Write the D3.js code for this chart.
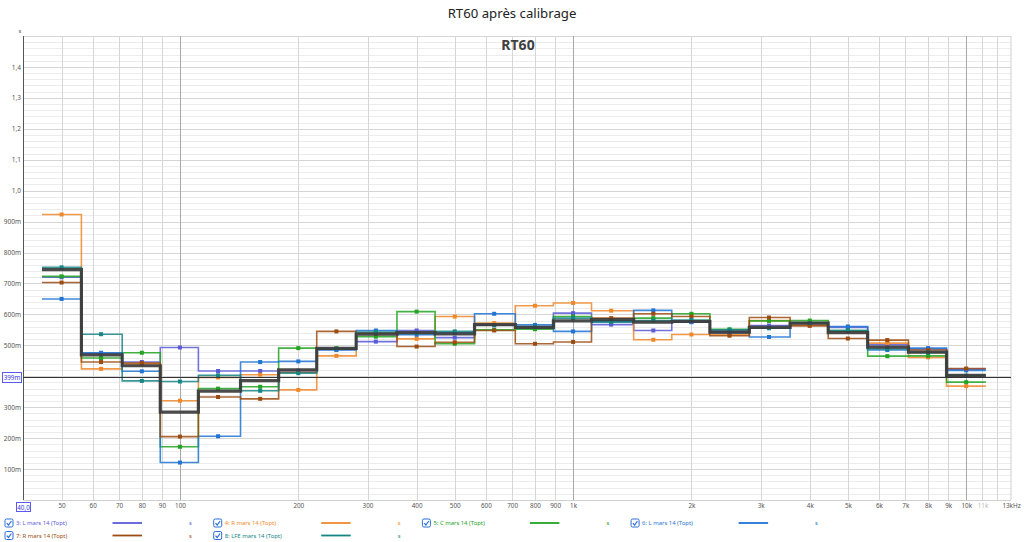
<!DOCTYPE html>
<html>
<head>
<meta charset="utf-8">
<script src="https://cdn.jsdelivr.net/npm/d3@7"></script>
<style>
  body { margin: 0; background: #fff; }
  text { font-family: "Noto Sans", "Open Sans", sans-serif; }
</style>
</head>
<body>
<script>
// 1/3 octave band centres (Hz)
var bands = [50, 63, 80, 100, 125, 160, 200, 250, 315, 400, 500, 630, 800, 1000, 1250, 1600, 2000, 2500, 3150, 4000, 5000, 6300, 8000, 10000];

// RT60 in seconds
var s3 = [0.720, 0.474, 0.446, 0.493, 0.417, 0.417, 0.418, 0.487, 0.512, 0.548, 0.525, 0.565, 0.555, 0.604, 0.567, 0.548, 0.575, 0.545, 0.564, 0.570, 0.558, 0.502, 0.488, 0.423];
var s4 = [0.923, 0.424, 0.440, 0.321, 0.396, 0.405, 0.356, 0.466, 0.540, 0.521, 0.593, 0.572, 0.628, 0.637, 0.612, 0.518, 0.535, 0.535, 0.580, 0.565, 0.545, 0.507, 0.461, 0.368];
var s5 = [0.723, 0.459, 0.476, 0.172, 0.360, 0.366, 0.491, 0.490, 0.528, 0.609, 0.505, 0.550, 0.552, 0.593, 0.580, 0.588, 0.602, 0.552, 0.579, 0.580, 0.548, 0.465, 0.466, 0.381];
var s6 = [0.650, 0.476, 0.416, 0.121, 0.206, 0.446, 0.448, 0.485, 0.548, 0.534, 0.541, 0.602, 0.566, 0.545, 0.577, 0.613, 0.575, 0.540, 0.527, 0.572, 0.561, 0.485, 0.491, 0.419];
var s7 = [0.703, 0.446, 0.443, 0.205, 0.333, 0.327, 0.413, 0.545, 0.539, 0.496, 0.510, 0.548, 0.505, 0.511, 0.588, 0.602, 0.593, 0.531, 0.590, 0.563, 0.522, 0.517, 0.485, 0.425];
var s8 = [0.752, 0.536, 0.385, 0.383, 0.403, 0.353, 0.410, 0.490, 0.543, 0.540, 0.545, 0.565, 0.560, 0.588, 0.575, 0.580, 0.582, 0.550, 0.555, 0.572, 0.548, 0.488, 0.477, 0.402];
var avg = [0.745, 0.469, 0.434, 0.284, 0.352, 0.386, 0.421, 0.490, 0.536, 0.541, 0.537, 0.567, 0.558, 0.579, 0.583, 0.575, 0.577, 0.543, 0.558, 0.572, 0.541, 0.494, 0.478, 0.403];

var names = ["3: L mars 14 (Topt)", "4: R mars 14 (Topt)", "5: C mars 14 (Topt)", "6: L mars 14 (Topt)", "7: R mars 14 (Topt)", "8: LFE mars 14 (Topt)"];
var colors = ["#5b5bd8", "#f0882a", "#22a322", "#1f74d4", "#9c4c10", "#158585"];
var seriesVals = [s3, s4, s5, s6, s7, s8];

var xTicks = [50, 60, 70, 80, 90, 100, 200, 300, 400, 500, 600, 700, 800, 900, 1000, 2000, 3000, 4000, 5000, 6000, 7000, 8000, 9000, 10000, 11000, 13000];
var xGrid = [50, 60, 70, 80, 90, 100, 200, 300, 400, 500, 600, 700, 800, 900, 1000, 2000, 3000, 4000, 5000, 6000, 7000, 8000, 9000, 10000, 11000, 12000];
var yTicks = [0.1, 0.2, 0.3, 0.5, 0.6, 0.7, 0.8, 0.9, 1.0, 1.1, 1.2, 1.3, 1.4];
var yGridMajor = [0.1, 0.2, 0.3, 0.4, 0.5, 0.6, 0.7, 0.8, 0.9, 1.0, 1.1, 1.2, 1.3, 1.4, 1.5];
var refLevel = 0.399;

var width = 1024, height = 542;

var x = d3.scaleLog().domain([40, 13000]).range([23.5, 1011]),
	y = d3.scaleLinear().domain([0, 1.5]).range([500, 36]);

var svg = d3.select("body").append("svg")
	.attr("width", width)
	.attr("height", height);

// title
svg.append("text")
	.attr("x", 512).attr("y", 18)
	.attr("text-anchor", "middle")
	.style("font-size", "13.2px").style("fill", "#222")
	.text("RT60 après calibrage");

// minor horizontal grid (every 0.02 s)
var minor = d3.range(0.02, 1.5, 0.02).filter(function (v) {
	return Math.abs(v * 10 - Math.round(v * 10)) > 0.01;
});
svg.append("g").selectAll("line").data(minor).enter().append("line")
	.attr("x1", x(40)).attr("x2", x(13000))
	.attr("y1", function (d) { return Math.round(y(d)) + 0.5; })
	.attr("y2", function (d) { return Math.round(y(d)) + 0.5; })
	.style("stroke", "#ececec");

// major horizontal grid
svg.append("g").selectAll("line").data(yGridMajor).enter().append("line")
	.attr("x1", x(40)).attr("x2", x(13000))
	.attr("y1", function (d) { return Math.round(y(d)) + 0.5; })
	.attr("y2", function (d) { return Math.round(y(d)) + 0.5; })
	.style("stroke", "#d6d6d6");

// vertical grid
svg.append("g").selectAll("line").data(xGrid).enter().append("line")
	.attr("x1", function (d) { return Math.round(x(d)) + 0.5; })
	.attr("x2", function (d) { return Math.round(x(d)) + 0.5; })
	.attr("y1", y(1.5)).attr("y2", y(0))
	.style("stroke", function (d) {
		return (d === 100 || d === 1000 || d === 10000) ? "#a8a8a8" : "#d6d6d6";
	});

// frame
svg.append("line").attr("x1", 23.5).attr("x2", 23.5).attr("y1", y(1.5)).attr("y2", y(0)).style("stroke", "#555");
svg.append("line").attr("x1", x(13000)).attr("x2", x(13000)).attr("y1", y(1.5)).attr("y2", y(0)).style("stroke", "#d0d0d0");
svg.append("line").attr("x1", 23.5).attr("x2", x(13000)).attr("y1", y(0) + 0.5).attr("y2", y(0) + 0.5).style("stroke", "#d0d0d0");

// inner chart title
svg.append("text")
	.attr("x", 518).attr("y", 50)
	.attr("text-anchor", "middle")
	.style("font-size", "14px").style("font-weight", "bold").style("fill", "#404040")
	.text("RT60");

// y axis
var yAxis = d3.axisLeft(y).tickValues(yTicks).tickSize(0).tickPadding(1)
	.tickFormat(function (d) {
		return d >= 1 ? d3.format(".1f")(d).replace(".", ",") : Math.round(d * 1000) + "m";
	});
var gy = svg.append("g").attr("transform", "translate(22,0)").call(yAxis);
gy.select(".domain").remove();
gy.selectAll("text").style("font-size", "6.5px").style("fill", "#555").style("font-family", "Noto Sans");
svg.append("text").attr("x", 20).attr("y", 33).attr("text-anchor", "middle")
	.style("font-size", "6px").style("fill", "#555").text("s");

// x axis
var xAxis = d3.axisBottom(x).tickValues(xTicks).tickSize(0).tickPadding(4)
	.tickFormat(function (d) {
		if (d === 13000) return "13kHz";
		return d >= 1000 ? (d / 1000) + "k" : d;
	});
var gx = svg.append("g").attr("transform", "translate(0,500)").call(xAxis);
gx.select(".domain").remove();
gx.selectAll("text").style("font-size", "6.3px").style("font-family", "Noto Sans")
	.style("fill", function (d) { return d === 11000 ? "#bbb" : "#555"; });

// 40,0 start marker
svg.append("rect").attr("x", 16.5).attr("y", 502.5).attr("width", 14).attr("height", 9)
	.style("fill", "#fff").style("stroke", "#5a5af0");
svg.append("text").attr("x", 23.5).attr("y", 509.5).attr("text-anchor", "middle")
	.style("font-size", "6.3px").style("fill", "#3838e0").text("40,0");

// series
var line = d3.line()
	.x(function (d) { return x(d[0]); })
	.y(function (d) { return y(d[1]); })
	.curve(d3.curveStepAfter);

function stepPoints(vals) {
	var pts = bands.map(function (f, i) { return [f * Math.pow(10, -0.05), vals[i]]; });
	pts.push([bands[bands.length - 1] * Math.pow(10, 0.05), vals[vals.length - 1]]);
	return pts;
}

var gs = svg.append("g").selectAll("g").data(seriesVals).enter().append("g");
gs.append("path")
	.attr("d", function (d) { return line(stepPoints(d)); })
	.style("fill", "none")
	.style("stroke", function (d, i) { return colors[i]; })
	.style("stroke-width", 1.6)
	.style("stroke-opacity", 0.85);
gs.each(function (vals, k) {
	d3.select(this).selectAll("rect").data(vals).enter().append("rect")
		.attr("x", function (d, i) { return x(bands[i]) - 2; })
		.attr("y", function (d) { return y(d) - 2; })
		.attr("width", 4).attr("height", 4)
		.style("fill", colors[k]);
});

// average
svg.append("path")
	.attr("d", line(stepPoints(avg)))
	.style("fill", "none")
	.style("stroke", "#3c3c3c")
	.style("stroke-width", 3.2)
	.style("stroke-opacity", 0.92);

// reference level line
svg.append("line")
	.attr("x1", 23.5).attr("x2", x(13000))
	.attr("y1", Math.round(y(refLevel)) + 0.5).attr("y2", Math.round(y(refLevel)) + 0.5)
	.style("stroke", "#333");
svg.append("rect").attr("x", 2.5).attr("y", Math.round(y(refLevel)) - 4.5).attr("width", 19).attr("height", 10)
	.style("fill", "#fff").style("stroke", "#5a5af0");
svg.append("text").attr("x", 12).attr("y", Math.round(y(refLevel)) + 2.8).attr("text-anchor", "middle")
	.style("font-size", "6.3px").style("fill", "#3838e0").text("399m");

// legend
var legend = svg.append("g").selectAll("g").data(names).enter().append("g")
	.attr("transform", function (d, i) {
		var col = i < 4 ? i : i - 4, row = i < 4 ? 0 : 1;
		return "translate(" + (5 + col * 208.7) + "," + (523 + row * 12.5) + ")";
	});
legend.append("rect").attr("x", 0).attr("y", -4).attr("width", 8).attr("height", 8).attr("rx", 1.5)
	.style("fill", "#fff").style("stroke", "#2a6fd6").style("stroke-width", 1);
legend.append("path").attr("d", "M1.8,0.2 L3.5,2 L6.4,-2")
	.style("fill", "none").style("stroke", "#2a6fd6").style("stroke-width", 1.2);
legend.append("text").attr("x", 11).attr("y", 2.3)
	.style("font-size", "5.9px")
	.style("fill", function (d, i) { return colors[i]; })
	.text(function (d) { return d; });
legend.append("line").attr("x1", 107.5).attr("x2", 137).attr("y1", 0).attr("y2", 0)
	.style("stroke", function (d, i) { return colors[i]; }).style("stroke-width", 1.8);
legend.append("text").attr("x", 184).attr("y", 2.3)
	.style("font-size", "5.9px")
	.style("fill", function (d, i) { return colors[i]; })
	.text("s");
</script>
</body>
</html>
